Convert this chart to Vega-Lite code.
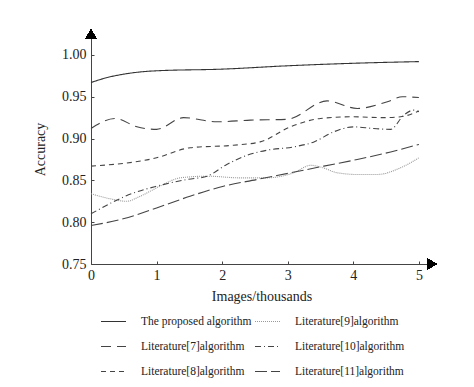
{
  "$schema": "https://vega.github.io/schema/vega-lite/v6.json",
  "width": 341,
  "height": 230,
  "autosize": "none",
  "padding": {"left": 91, "top": 34, "right": 42, "bottom": 123},
  "background": "white",
  "config": {
    "view": {"stroke": null},
    "font": "Liberation Serif",
    "axis": {"grid": false, "domainColor": "#444", "tickColor": "#444", "labelFont": "Liberation Serif", "titleFont": "Liberation Serif", "labelColor": "#222", "titleColor": "#222", "labelFontSize": 14, "titleFontSize": 14, "titleFontWeight": "normal"},
    "legend": {"labelFont": "Liberation Serif", "labelFontSize": 11.5, "labelColor": "#222"}
  },
  "data": {"values": [
    {"s": "The proposed algorithm", "x": 0, "y": 0.967},
    {"s": "The proposed algorithm", "x": 0.25, "y": 0.973},
    {"s": "The proposed algorithm", "x": 0.5, "y": 0.977},
    {"s": "The proposed algorithm", "x": 0.8, "y": 0.980},
    {"s": "The proposed algorithm", "x": 1, "y": 0.981},
    {"s": "The proposed algorithm", "x": 2, "y": 0.983},
    {"s": "The proposed algorithm", "x": 3, "y": 0.987},
    {"s": "The proposed algorithm", "x": 4, "y": 0.990},
    {"s": "The proposed algorithm", "x": 5, "y": 0.992},
    {"s": "Literature[7]algorithm", "x": 0, "y": 0.912},
    {"s": "Literature[7]algorithm", "x": 0.37, "y": 0.924},
    {"s": "Literature[7]algorithm", "x": 0.7, "y": 0.914},
    {"s": "Literature[7]algorithm", "x": 1.0, "y": 0.911},
    {"s": "Literature[7]algorithm", "x": 1.41, "y": 0.925},
    {"s": "Literature[7]algorithm", "x": 1.92, "y": 0.920},
    {"s": "Literature[7]algorithm", "x": 2.43, "y": 0.922},
    {"s": "Literature[7]algorithm", "x": 2.99, "y": 0.923},
    {"s": "Literature[7]algorithm", "x": 3.6, "y": 0.945},
    {"s": "Literature[7]algorithm", "x": 4.06, "y": 0.936},
    {"s": "Literature[7]algorithm", "x": 4.52, "y": 0.944},
    {"s": "Literature[7]algorithm", "x": 4.75, "y": 0.950},
    {"s": "Literature[7]algorithm", "x": 5, "y": 0.949},
    {"s": "Literature[8]algorithm", "x": 0, "y": 0.867},
    {"s": "Literature[8]algorithm", "x": 1, "y": 0.877},
    {"s": "Literature[8]algorithm", "x": 1.51, "y": 0.889},
    {"s": "Literature[8]algorithm", "x": 2.17, "y": 0.892},
    {"s": "Literature[8]algorithm", "x": 2.58, "y": 0.896},
    {"s": "Literature[8]algorithm", "x": 3.04, "y": 0.914},
    {"s": "Literature[8]algorithm", "x": 3.5, "y": 0.924},
    {"s": "Literature[8]algorithm", "x": 4.0, "y": 0.926},
    {"s": "Literature[8]algorithm", "x": 4.47, "y": 0.925},
    {"s": "Literature[8]algorithm", "x": 4.72, "y": 0.926},
    {"s": "Literature[8]algorithm", "x": 5, "y": 0.933},
    {"s": "Literature[9]algorithm", "x": 0, "y": 0.834},
    {"s": "Literature[9]algorithm", "x": 0.29, "y": 0.828},
    {"s": "Literature[9]algorithm", "x": 0.54, "y": 0.825},
    {"s": "Literature[9]algorithm", "x": 0.75, "y": 0.831},
    {"s": "Literature[9]algorithm", "x": 1.05, "y": 0.843},
    {"s": "Literature[9]algorithm", "x": 1.36, "y": 0.853},
    {"s": "Literature[9]algorithm", "x": 1.77, "y": 0.855},
    {"s": "Literature[9]algorithm", "x": 2.28, "y": 0.853},
    {"s": "Literature[9]algorithm", "x": 2.68, "y": 0.853},
    {"s": "Literature[9]algorithm", "x": 3.09, "y": 0.859},
    {"s": "Literature[9]algorithm", "x": 3.35, "y": 0.868},
    {"s": "Literature[9]algorithm", "x": 3.5, "y": 0.866},
    {"s": "Literature[9]algorithm", "x": 3.76, "y": 0.859},
    {"s": "Literature[9]algorithm", "x": 4.07, "y": 0.857},
    {"s": "Literature[9]algorithm", "x": 4.36, "y": 0.857},
    {"s": "Literature[9]algorithm", "x": 4.72, "y": 0.865},
    {"s": "Literature[9]algorithm", "x": 5, "y": 0.877},
    {"s": "Literature[10]algorithm", "x": 0, "y": 0.810},
    {"s": "Literature[10]algorithm", "x": 0.65, "y": 0.835},
    {"s": "Literature[10]algorithm", "x": 1.0, "y": 0.843},
    {"s": "Literature[10]algorithm", "x": 1.46, "y": 0.851},
    {"s": "Literature[10]algorithm", "x": 1.77, "y": 0.855},
    {"s": "Literature[10]algorithm", "x": 2.07, "y": 0.869},
    {"s": "Literature[10]algorithm", "x": 2.38, "y": 0.880},
    {"s": "Literature[10]algorithm", "x": 2.68, "y": 0.886},
    {"s": "Literature[10]algorithm", "x": 3.09, "y": 0.890},
    {"s": "Literature[10]algorithm", "x": 3.4, "y": 0.896},
    {"s": "Literature[10]algorithm", "x": 3.7, "y": 0.908},
    {"s": "Literature[10]algorithm", "x": 4.0, "y": 0.914},
    {"s": "Literature[10]algorithm", "x": 4.31, "y": 0.912},
    {"s": "Literature[10]algorithm", "x": 4.57, "y": 0.911},
    {"s": "Literature[10]algorithm", "x": 4.77, "y": 0.928},
    {"s": "Literature[10]algorithm", "x": 4.92, "y": 0.934},
    {"s": "Literature[10]algorithm", "x": 5, "y": 0.932},
    {"s": "Literature[11]algorithm", "x": 0, "y": 0.796},
    {"s": "Literature[11]algorithm", "x": 0.49, "y": 0.804},
    {"s": "Literature[11]algorithm", "x": 1.0, "y": 0.817},
    {"s": "Literature[11]algorithm", "x": 1.51, "y": 0.831},
    {"s": "Literature[11]algorithm", "x": 2.02, "y": 0.843},
    {"s": "Literature[11]algorithm", "x": 2.53, "y": 0.851},
    {"s": "Literature[11]algorithm", "x": 3.04, "y": 0.859},
    {"s": "Literature[11]algorithm", "x": 3.55, "y": 0.867},
    {"s": "Literature[11]algorithm", "x": 4.06, "y": 0.875},
    {"s": "Literature[11]algorithm", "x": 4.57, "y": 0.884},
    {"s": "Literature[11]algorithm", "x": 5, "y": 0.893}
  ]},
  "layer": [
    {
      "mark": {"type": "line", "interpolate": "monotone", "strokeWidth": 1.1},
      "encoding": {
        "x": {"field": "x", "type": "quantitative", "scale": {"domain": [0, 5.2], "nice": false}, "axis": {"values": [0, 1, 2, 3, 4, 5], "format": "d", "tickSize": -3, "labelPadding": 7, "title": "Images/thousands", "titlePadding": 7, "labelFlush": false}},
        "y": {"field": "y", "type": "quantitative", "scale": {"domain": [0.75, 1.025], "nice": false, "zero": false}, "axis": {"values": [0.75, 0.8, 0.85, 0.9, 0.95, 1.0], "format": ".2f", "tickSize": -3, "labelPadding": 8, "title": "Accuracy", "titlePadding": 14, "labelFlush": false}},
        "color": {"field": "s", "type": "nominal", "scale": {"domain": ["The proposed algorithm", "Literature[9]algorithm", "Literature[7]algorithm", "Literature[10]algorithm", "Literature[8]algorithm", "Literature[11]algorithm"], "range": ["#333333", "#999999", "#444444", "#444444", "#444444", "#444444"]}, "legend": {"title": null, "orient": "none", "legendX": 9, "legendY": 274, "columns": 2, "direction": "horizontal", "symbolType": "stroke", "symbolSize": 625, "symbolStrokeWidth": 1.1, "labelOffset": 14, "rowPadding": 6, "columnPadding": 0, "labelLimit": 200}},
        "strokeDash": {"field": "s", "type": "nominal", "scale": {"domain": ["The proposed algorithm", "Literature[9]algorithm", "Literature[7]algorithm", "Literature[10]algorithm", "Literature[8]algorithm", "Literature[11]algorithm"], "range": [[1, 0], [1, 1], [10, 6], [6, 3, 1, 3], [5, 4], [12, 4]]}, "legend": {"title": null, "orient": "none", "legendX": 9, "legendY": 274, "columns": 2, "direction": "horizontal", "symbolType": "stroke", "symbolSize": 625, "symbolStrokeWidth": 1.1, "labelOffset": 14, "rowPadding": 6, "columnPadding": 0, "labelLimit": 200}}
      }
    },
    {
      "mark": {"type": "point", "shape": "triangle-up", "filled": true, "color": "black", "size": 110, "opacity": 1},
      "encoding": {"x": {"datum": 0}, "y": {"datum": 1.025}}
    },
    {
      "mark": {"type": "point", "shape": "triangle-right", "filled": true, "color": "black", "size": 110, "opacity": 1},
      "encoding": {"x": {"datum": 5.2}, "y": {"datum": 0.75}}
    }
  ]
}
